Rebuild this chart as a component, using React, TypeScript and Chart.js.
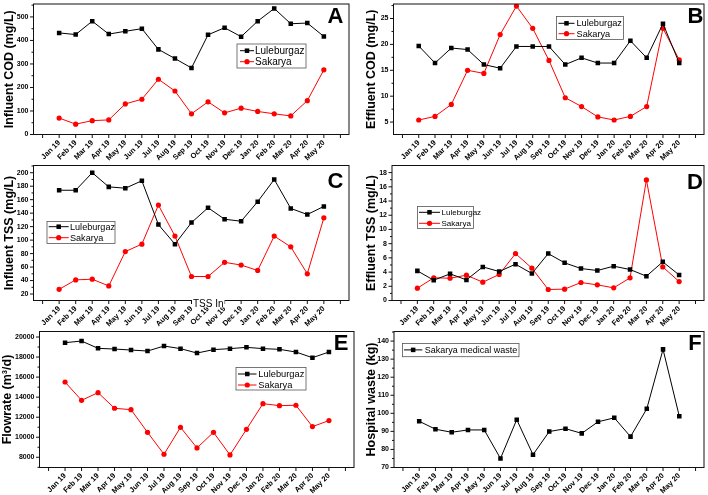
import React, { useEffect, useRef } from 'react';
import { Chart, registerables } from 'chart.js';

Chart.register(...registerables);

const FONT = '"Liberation Sans", Arial, Helvetica, sans-serif';

// ---- categories ----
const months = ['Jan 19', 'Feb 19', 'Mar 19', 'Apr 19', 'May 19', 'Jun 19', 'Jul 19', 'Aug 19', 'Sep 19', 'Oct 19', 'Nov 19', 'Dec 19', 'Jan 20', 'Feb 20', 'Mar 20', 'Apr 20', 'May 20'];
const xTickValues = [-1, 0, 1, 2, 3, 4, 5, 6, 7, 8, 9, 10, 11, 12, 13, 14, 15, 16, 17];

// ---- series values ----
const codInLule = [432, 425, 482, 427, 439, 450, 362, 323, 283, 424, 454, 416, 482, 536, 471, 474, 417];
const codInSak = [70, 44, 59, 62, 130, 150, 235, 185, 88, 139, 92, 112, 98, 88, 79, 144, 275];
const codEffLule = [19.7, 16.4, 19.3, 19.0, 16.1, 15.4, 19.6, 19.6, 19.6, 16.1, 17.4, 16.4, 16.4, 20.7, 17.4, 24.0, 16.4];
const codEffSak = [5.4, 6.1, 8.4, 15.0, 14.4, 21.9, 27.4, 23.1, 16.9, 9.7, 8.0, 6.0, 5.4, 6.1, 8.0, 23.1, 17.0];
const tssInLule = [174, 174, 200, 179, 177, 188, 123, 94, 126, 148, 131, 128, 157, 190, 147, 138, 150];
const tssInSak = [27, 41, 42, 32, 83, 94, 152, 106, 46, 46, 67, 63, 55, 106, 90, 50, 133];
const tssEffLule = [4.17, 2.86, 3.75, 2.9, 4.73, 4.08, 5.11, 3.8, 6.6, 5.3, 4.5, 4.22, 4.83, 4.36, 3.42, 5.44, 3.6];
const tssEffSak = [1.73, 3.19, 3.14, 3.56, 2.58, 3.66, 6.6, 4.55, 1.55, 1.6, 2.53, 2.2, 1.78, 3.19, 16.97, 4.73, 2.67];
const flowLule = [19435, 19600, 18870, 18800, 18700, 18600, 19100, 18840, 18400, 18740, 18840, 18970, 18840, 18770, 18500, 17940, 18500];
const flowSak = [15510, 13680, 14450, 12890, 12750, 10490, 8300, 10990, 8930, 10490, 8230, 10790, 13350, 13150, 13190, 11060, 11660];
const hospWaste = [95.6, 91.2, 89.5, 90.8, 90.8, 75.0, 96.5, 77.1, 89.9, 91.5, 88.9, 95.3, 97.5, 87.1, 102.5, 135.4, 98.4];

// ---- tick labels ----
const codInTicks = [0, 100, 200, 300, 400, 500];
const codInMinor = [50, 150, 250, 350, 450, 550];
const codEffTicks = [5, 10, 15, 20, 25];
const codEffMinor = [2.5, 7.5, 12.5, 17.5, 22.5, 27.5];
const tssInTicks = [20, 40, 60, 80, 100, 120, 140, 160, 180, 200];
const tssInMinor = [30, 50, 70, 90, 110, 130, 150, 170, 190, 210];
const tssEffTicks = [0, 2, 4, 6, 8, 10, 12, 14, 16, 18];
const tssEffMinor = [1, 3, 5, 7, 9, 11, 13, 15, 17];
const flowTicks = [8000, 10000, 12000, 14000, 16000, 18000, 20000];
const flowMinor = [7000, 9000, 11000, 13000, 15000, 17000, 19000];
const wasteTicks = [70, 80, 90, 100, 110, 120, 130, 140];
const wasteMinor = [75, 85, 95, 105, 115, 125, 135, 145];

const LULE = 'Luleburgaz';
const SAK = 'Sakarya';
const BLACK = '#000000';
const RED = '#ff0000';

type Series = { label: string; values: number[]; color: string; marker: 'rect' | 'circle' };
type Legend = { x: number; y: number; w: number; h: number; rows: number[]; sx0: number; sx1: number; tx: number; font: number };
type Panel = {
  letter: string; lx: number; ly: number;
  yTitle: string; titleX: number;
  area: { l: number; r: number; t: number; b: number };
  yMin: number; yMax: number; yTicks: number[]; yMinor: number[];
  series: Series[]; legend: Legend;
  extra?: { text: string; x: number; y: number; size: number };
};

const PANELS: Panel[] = [
  {
    letter: 'A', lx: 335.5, ly: 23, yTitle: 'Influent COD (mg/L)', titleX: 10,
    area: { l: 33.5, r: 349, t: 1, b: 134.5 }, yMin: 0, yMax: 555, yTicks: codInTicks, yMinor: codInMinor,
    series: [
      { label: LULE, values: codInLule, color: BLACK, marker: 'rect' },
      { label: SAK, values: codInSak, color: RED, marker: 'circle' },
    ],
    legend: { x: 237, y: 44, w: 69, h: 24, rows: [50.7, 61.7], sx0: 240, sx1: 254, tx: 255, font: 10 },
  },
  {
    letter: 'B', lx: 695.5, ly: 23, yTitle: 'Effluent COD (mg/L)', titleX: 372,
    area: { l: 393.5, r: 707, t: 1, b: 134.5 }, yMin: 2.6, yMax: 27.8, yTicks: codEffTicks, yMinor: codEffMinor,
    series: [
      { label: LULE, values: codEffLule, color: BLACK, marker: 'rect' },
      { label: SAK, values: codEffSak, color: RED, marker: 'circle' },
    ],
    legend: { x: 556.5, y: 16.5, w: 67, h: 23, rows: [23.3, 33.7], sx0: 558.5, sx1: 574.5, tx: 576.5, font: 9.2 },
  },
  {
    letter: 'C', lx: 335.5, ly: 188, yTitle: 'Influent TSS (mg/L)', titleX: 10,
    area: { l: 33.5, r: 349, t: 165.5, b: 300.5 }, yMin: 10.4, yMax: 210.7, yTicks: tssInTicks, yMinor: tssInMinor,
    series: [
      { label: LULE, values: tssInLule, color: BLACK, marker: 'rect' },
      { label: SAK, values: tssInSak, color: RED, marker: 'circle' },
    ],
    legend: { x: 47, y: 221.5, w: 68, h: 22, rows: [226.7, 237.7], sx0: 48.7, sx1: 68.7, tx: 70, font: 9.1 },
    extra: { text: 'TSS In', x: 193, y: 306.5, size: 10 },
  },
  {
    letter: 'D', lx: 695, ly: 189, yTitle: 'Effluent TSS (mg/L)', titleX: 372,
    area: { l: 392, r: 707, t: 165.5, b: 300.5 }, yMin: 0, yMax: 19, yTicks: tssEffTicks, yMinor: tssEffMinor,
    series: [
      { label: LULE, values: tssEffLule, color: BLACK, marker: 'rect' },
      { label: SAK, values: tssEffSak, color: RED, marker: 'circle' },
    ],
    legend: { x: 417.5, y: 206.5, w: 56, h: 22, rows: [212.3, 223.3], sx0: 419, sx1: 440, tx: 441.5, font: 8 },
  },
  {
    letter: 'E', lx: 341, ly: 350, yTitle: 'Flowrate (m³/d)', titleX: 8,
    area: { l: 39.5, r: 354, t: 331.5, b: 467.5 }, yMin: 6980, yMax: 20550, yTicks: flowTicks, yMinor: flowMinor,
    series: [
      { label: LULE, values: flowLule, color: BLACK, marker: 'rect' },
      { label: SAK, values: flowSak, color: RED, marker: 'circle' },
    ],
    legend: { x: 236, y: 367.5, w: 70, h: 22.5, rows: [374, 385], sx0: 238, sx1: 256.5, tx: 258.3, font: 9.3 },
  },
  {
    letter: 'F', lx: 695, ly: 350, yTitle: 'Hospital waste (kg)', titleX: 372,
    area: { l: 394, r: 707, t: 331.5, b: 467.5 }, yMin: 70, yMax: 145.3, yTicks: wasteTicks, yMinor: wasteMinor,
    series: [
      { label: 'Sakarya medical waste', values: hospWaste, color: BLACK, marker: 'rect' },
    ],
    legend: { x: 402.5, y: 343.5, w: 116.5, h: 13.2, rows: [349.9], sx0: 404, sx1: 422.3, tx: 424.7, font: 9 },
  },
];

const W = 708;
const H = 495;
const X_AXIS_H = 30;
const TITLE_SIZE = 12.5;

function drawMarker(ctx: CanvasRenderingContext2D, kind: 'rect' | 'circle', x: number, y: number, color: string) {
  ctx.fillStyle = color;
  if (kind === 'rect') {
    ctx.fillRect(x - 2.25, y - 2.25, 4.5, 4.5);
  } else {
    ctx.beginPath();
    ctx.arc(x, y, 2.6, 0, Math.PI * 2);
    ctx.fill();
  }
}

function makeDecor(p: Panel) {
  return {
    id: 'decor' + p.letter,
    afterDraw(chart: any) {
      const { ctx, chartArea: a, scales } = chart;
      const xs = scales.x;
      const ys = scales.y;
      ctx.save();
      ctx.strokeStyle = '#111';
      ctx.lineWidth = 1;
      ctx.strokeRect(a.left, a.top, a.right - a.left, a.bottom - a.top);
      ctx.beginPath();
      xTickValues.forEach((v) => {
        const px = xs.getPixelForValue(v);
        ctx.moveTo(px, a.bottom);
        ctx.lineTo(px, a.bottom + 3.5);
      });
      p.yTicks.forEach((v) => {
        const py = ys.getPixelForValue(v);
        ctx.moveTo(a.left - 3.5, py);
        ctx.lineTo(a.left, py);
      });
      p.yMinor.forEach((v) => {
        if (v < p.yMin || v > p.yMax) return;
        const py = ys.getPixelForValue(v);
        ctx.moveTo(a.left - 2, py);
        ctx.lineTo(a.left, py);
      });
      ctx.stroke();

      // legend
      const L = p.legend;
      ctx.fillStyle = '#ffffff';
      ctx.fillRect(L.x, L.y, L.w, L.h);
      ctx.strokeStyle = '#555';
      ctx.lineWidth = 0.8;
      ctx.strokeRect(L.x, L.y, L.w, L.h);
      p.series.forEach((s, i) => {
        const yy = L.rows[i];
        ctx.strokeStyle = s.color;
        ctx.lineWidth = 1;
        ctx.beginPath();
        ctx.moveTo(L.sx0, yy);
        ctx.lineTo(L.sx1, yy);
        ctx.stroke();
        drawMarker(ctx, s.marker, (L.sx0 + L.sx1) / 2, yy, s.color);
        ctx.fillStyle = '#000';
        ctx.font = `${L.font}px ${FONT}`;
        ctx.textAlign = 'left';
        ctx.textBaseline = 'middle';
        ctx.fillText(s.label, L.tx, yy + 0.5);
      });

      // panel letter
      ctx.fillStyle = '#000';
      ctx.font = `bold 22px ${FONT}`;
      ctx.textAlign = 'center';
      ctx.textBaseline = 'alphabetic';
      ctx.fillText(p.letter, p.lx, p.ly);

      if (p.extra) {
        ctx.font = `${p.extra.size}px ${FONT}`;
        const tw = ctx.measureText(p.extra.text).width;
        ctx.fillStyle = '#fff';
        ctx.fillRect(p.extra.x - 1, p.extra.y - 8, tw + 2, 9);
        ctx.fillStyle = '#000';
        ctx.textAlign = 'left';
        ctx.fillText(p.extra.text, p.extra.x, p.extra.y);
      }
      ctx.restore();
    },
  };
}

function buildChart(canvas: HTMLCanvasElement, p: Panel) {
  const lp = p.titleX - (TITLE_SIZE * 1.2) / 2;
  const yAxisW = p.area.l - lp;
  const zeroPad = (s: any) => {
    s.paddingTop = 0;
    s.paddingBottom = 0;
    s.paddingLeft = 0;
    s.paddingRight = 0;
  };
  return new Chart(canvas, {
    type: 'line',
    data: {
      datasets: p.series.map((s) => ({
        label: s.label,
        data: s.values.map((v, i) => ({ x: i, y: v })),
        borderColor: s.color,
        backgroundColor: s.color,
        borderWidth: 1,
        pointStyle: s.marker,
        pointRadius: s.marker === 'rect' ? 3.2 : 2.6,
        pointBorderWidth: 0,
        pointBackgroundColor: s.color,
        pointBorderColor: s.color,
        tension: 0,
        fill: false,
      })),
    },
    options: {
      responsive: false,
      animation: false,
      events: [],
      layout: {
        padding: { left: lp, top: p.area.t, right: W - p.area.r, bottom: H - p.area.b - X_AXIS_H },
      },
      plugins: { legend: { display: false }, tooltip: { enabled: false }, title: { display: false } },
      scales: {
        x: {
          type: 'linear',
          min: -1.55,
          max: 17.52,
          afterBuildTicks: (s: any) => {
            s.ticks = xTickValues.map((v) => ({ value: v }));
          },
          afterFit: (s: any) => {
            s.height = X_AXIS_H;
            zeroPad(s);
          },
          grid: { display: true, drawOnChartArea: false, drawTicks: false },
          border: { display: false },
          ticks: {
            autoSkip: false,
            minRotation: 45,
            maxRotation: 45,
            padding: 4,
            color: '#000',
            font: { family: FONT, size: 7.5, weight: 'bold' },
            callback: (v: any) => months[v as number] ?? '',
          },
        },
        y: {
          type: 'linear',
          min: p.yMin,
          max: p.yMax,
          afterBuildTicks: (s: any) => {
            s.ticks = p.yTicks.map((v) => ({ value: v }));
          },
          afterFit: (s: any) => {
            s.width = yAxisW;
            zeroPad(s);
          },
          grid: { display: true, drawOnChartArea: false, drawTicks: false },
          border: { display: false },
          title: {
            display: true,
            text: p.yTitle,
            color: '#000',
            padding: 0,
            font: { family: FONT, size: TITLE_SIZE, weight: 'bold' },
          },
          ticks: {
            padding: 5,
            color: '#000',
            font: { family: FONT, size: 7, weight: 'bold' },
            callback: (v: any) => String(v),
          },
        },
      },
    } as any,
    plugins: [makeDecor(p)],
  });
}

export default function App() {
  const refs = useRef<(HTMLCanvasElement | null)[]>([]);
  useEffect(() => {
    const charts = PANELS.map((p, i) => buildChart(refs.current[i] as HTMLCanvasElement, p));
    return () => charts.forEach((c) => c.destroy());
  }, []);
  return (
    <div style={{ position: 'absolute', left: 0, top: 0, width: W, height: H, background: '#fff', overflow: 'hidden' }}>
      {PANELS.map((p, i) => (
        <canvas
          key={p.letter}
          ref={(el) => {
            refs.current[i] = el;
          }}
          width={W}
          height={H}
          style={{ position: 'absolute', left: 0, top: 0, width: W, height: H }}
        />
      ))}
    </div>
  );
}
